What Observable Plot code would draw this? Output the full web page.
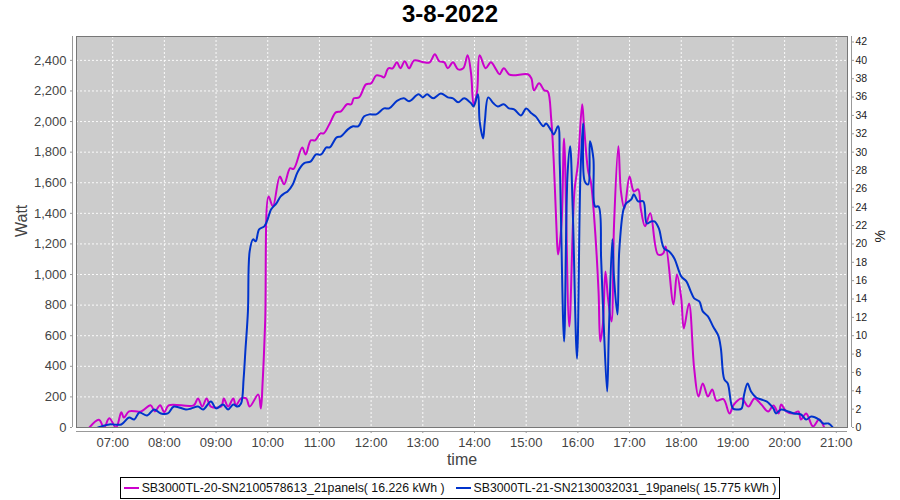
<!DOCTYPE html>
<html>
<head>
<meta charset="utf-8">
<script src="https://cdn.jsdelivr.net/npm/d3@7"></script>
<script src="https://cdn.jsdelivr.net/npm/@observablehq/plot@0.6"></script>
<style>
  html, body { margin: 0; padding: 0; background: #fff; }
  #wrap { position: relative; width: 900px; height: 500px; overflow: hidden; font-family: "Liberation Sans", Arial, sans-serif; }
  #title { position: absolute; top: 0; left: 0; width: 900px; height: 28px; line-height: 28px; text-align: center; font-weight: bold; font-size: 24px; color: #000; }
  #chart { position: absolute; top: 30px; left: 0; }
  #legendRow { position: absolute; top: 477px; left: 0; width: 900px; display: flex; justify-content: center; }
  #legend { display: flex; align-items: center; height: 20px; border: 1px solid #000; padding: 0 3px; font-size: 12.3px; color: #111; white-space: nowrap; }
  .item { display: flex; align-items: center; margin-right: 11px; }
  .item:last-child { margin-right: 0; }
  .sw { width: 15px; height: 2px; margin-right: 3px; }
</style>
</head>
<body>
<div id="wrap">
  <div id="title"></div>
  <div id="chart"></div>
  <div id="legendRow"><div id="legend"></div></div>
</div>
<script>
const chartTitle = "3-8-2022";
const seriesNames = ["SB3000TL-20-SN2100578613_21panels", "SB3000TL-21-SN2130032031_19panels"];
const seriesKwh = [16.226, 15.775];
const seriesColors = ["#cc00cc", "#0033cc"];

// Watt readings for inverter SB3000TL-20 (time, W)
const inv20 = [["06:33",0],["06:44",50],["06:50",0],["06:56",60],["07:04",0],["07:10",100],["07:13",65],["07:19",105],["07:33",105],["07:44",145],["07:49",105],["07:55",145],["08:00",100],["08:05",145],["08:34",145],["08:39",190],["08:44",137],["08:49",190],["08:54",137],["09:06",137],["09:09",190],["09:14",137],["09:20",190],["09:23",145],["09:29",190],["09:35",190],["09:39",137],["09:49",215],["09:52",125],["09:54",290],["09:57",690],["10:01",1510],["10:06",1445],["10:14",1640],["10:19",1590],["10:26",1695],["10:30",1690],["10:40",1830],["10:44",1785],["10:50",1877],["10:55",1877],["11:01",1923],["11:05",1923],["11:12",1988],["11:19",2060],["11:25",2067],["11:32",2113],["11:37",2113],["11:40",2152],["11:46",2158],["11:54",2243],["12:00",2250],["12:06",2302],["12:12",2296],["12:15",2289],["12:20",2348],["12:25",2348],["12:30",2387],["12:34",2348],["12:39",2394],["12:44",2348],["12:50",2400],["13:01",2387],["13:08",2387],["13:14",2440],["13:19",2394],["13:25",2387],["13:29",2348],["13:35",2387],["13:41",2341],["13:47",2348],["13:52",2433],["13:56",2315],["13:59",2113],["14:03",2197],["14:06",2433],["14:13",2348],["14:19",2387],["14:25",2341],["14:29",2309],["14:34",2348],["14:40",2309],["14:45",2302],["15:02",2309],["15:06",2283],["15:09",2204],["15:15",2250],["15:21",2204],["15:25",2197],["15:29",2021],["15:32",1740],["15:35",1328],["15:37",1131],["15:41",1328],["15:44",1890],["15:50",660],["15:56",1543],["16:00",1720],["16:05",2113],["16:07",1982],["16:12",1674],["16:15",1609],["16:19",1367],["16:24",890],["16:26",562],["16:29",674],["16:32",1020],["16:35",844],["16:39",693],["16:42",1328],["16:47",1838],["16:50",1543],["16:54",1432],["17:00",1641],["17:05",1543],["17:10",1557],["17:13",1432],["17:18",1315],["17:24",1400],["17:33",1131],["17:39",1138],["17:42",1184],["17:51",804],["17:55",1000],["18:00",844],["18:03",647],["18:09",811],["18:15",386],["18:20",203],["18:25",288],["18:31",203],["18:36",249],["18:41",175],["18:49",185],["18:56",92],["19:01",150],["19:10",190],["19:18",137],["19:25",190],["19:33",150],["19:41",105],["19:47",144],["19:53",92],["19:56",150],["20:02",105],["20:10",92],["20:16",105],["20:19",52],["20:25",92],["20:33",7],["20:40",52],["20:46",0]];

// Watt readings for inverter SB3000TL-21 (time, W)
const inv21 = [["06:43",0],["06:56",20],["07:10",20],["07:19",65],["07:25",52],["07:31",98],["07:40",78],["07:48",118],["07:56",92],["08:04",92],["08:11",137],["08:25",118],["08:31",124],["08:39",137],["08:45",118],["08:54",170],["09:00",124],["09:08",150],["09:14",118],["09:20",150],["09:25",137],["09:29",157],["09:32",320],["09:34",497],["09:37",759],["09:39",1151],["09:43",1230],["09:46",1217],["09:50",1295],["09:56",1315],["09:59",1347],["10:04",1426],["10:10",1465],["10:15",1511],["10:19",1530],["10:23",1543],["10:29",1589],["10:35",1674],["10:42",1727],["10:50",1740],["10:56",1785],["11:02",1785],["11:08",1831],["11:12",1831],["11:20",1897],["11:25",1903],["11:33",1949],["11:39",1969],["11:45",1969],["11:52",2034],["11:58",2047],["12:06",2047],["12:15",2086],["12:21",2086],["12:30",2135],["12:38",2152],["12:44",2132],["12:55",2178],["13:00",2158],["13:05",2178],["13:12",2152],["13:21",2184],["13:29",2158],["13:35",2152],["13:41",2126],["13:48",2152],["13:56",2119],["13:59",2099],["14:04",2178],["14:06",2001],["14:10",1890],["14:12",2001],["14:16",2158],["14:22",2119],["14:27",2099],["14:34",2113],["14:40",2086],["14:46",2080],["14:54",2040],["15:00",2086],["15:06",2054],["15:11",2034],["15:20",1969],["15:23",1988],["15:29",1942],["15:32",1916],["15:37",1970],["15:39",1720],["15:44",562],["15:48",1654],["15:51",1838],["15:54",1432],["15:59",451],["16:03",1654],["16:06",1988],["16:08",1609],["16:12",1589],["16:14",1871],["16:18",1759],["16:20",1445],["16:24",1445],["16:27",1105],["16:30",674],["16:34",235],["16:36",628],["16:40",1230],["16:42",975],["16:46",739],["16:48",1151],["16:53",1426],["16:56",1465],["17:02",1491],["17:05",1524],["17:10",1478],["17:16",1478],["17:20",1334],["17:25",1347],["17:29",1347],["17:34",1301],["17:40",1171],["17:46",1151],["17:52",1105],["18:00",988],["18:06",955],["18:11",890],["18:15",844],["18:21",824],["18:25",759],["18:31",726],["18:37",660],["18:43",600],["18:46",517],["18:50",314],["18:54",288],["19:00",124],["19:06",118],["19:10",124],["19:13",216],["19:17",288],["19:21",235],["19:27",196],["19:33",183],["19:39",170],["19:42",157],["19:47",124],["19:50",92],["19:56",118],["20:04",105],["20:11",92],["20:19",85],["20:25",52],["20:31",72],["20:40",52],["20:45",26],["20:51",26],["20:56",0]];

const hourTicks = ["07:00","08:00","09:00","10:00","11:00","12:00","13:00","14:00","15:00","16:00","17:00","18:00","19:00","20:00","21:00"];
const wattTicks = [0,200,400,600,800,1000,1200,1400,1600,1800,2000,2200,2400];
const pctTicks = [0,2,4,6,8,10,12,14,16,18,20,22,24,26,28,30,32,34,36,38,40,42];
const wattPerPct = 60;        // 40 % on the right axis equals 2,400 W on the left
const xRange = ["06:18","21:13"];
const yMax = 2556;

const toDate = s => new Date(`2022-08-03T${s}:00Z`);
const rows = (arr, name) => arr.map(([t, w]) => ({time: toDate(t), watt: w, series: name}));
const data20 = rows(inv20, seriesNames[0]);
const data21 = rows(inv21, seriesNames[1]);
const xDomain = xRange.map(toDate);
const hourDates = hourTicks.map(toDate);

document.getElementById("title").textContent = chartTitle;

const chart = Plot.plot({
  width: 900,
  height: 440,
  marginTop: 6,
  marginBottom: 43,
  marginLeft: 76,
  marginRight: 53,
  style: {fontFamily: "'Liberation Sans', Arial, sans-serif", fontSize: "13px", color: "#444", background: "transparent"},
  x: {type: "utc", domain: xDomain},
  y: {domain: [0, yMax]},
  marks: [
    Plot.frame({fill: "#cccccc"}),
    Plot.gridX(hourDates, {stroke: "#ffffff", strokeOpacity: 0.9, strokeWidth: 1, strokeDasharray: "2,2"}),
    Plot.gridY(wattTicks.filter(d => d > 0), {stroke: "#ffffff", strokeOpacity: 0.9, strokeWidth: 1, strokeDasharray: "2,2"}),
    Plot.line(data20, {x: "time", y: "watt", stroke: seriesColors[0], strokeWidth: 2, curve: "catmull-rom", clip: true}),
    Plot.line(data21, {x: "time", y: "watt", stroke: seriesColors[1], strokeWidth: 2, curve: "catmull-rom", clip: true}),
    Plot.frame({stroke: "#777777"}),
    Plot.axisX({ticks: hourDates, tickFormat: d3.utcFormat("%H:%M"), tickSize: 2, tickPadding: 4, dy: 4, label: null, stroke: "#999"}),
    Plot.ruleY([0], {dy: 4, stroke: "#999"}),
    Plot.axisY({anchor: "left", ticks: wattTicks, tickFormat: d3.format(","), tickSize: 2, tickPadding: 4, dx: -4, label: null, stroke: "#999"}),
    Plot.ruleX([xDomain[0]], {dx: -4, stroke: "#999"}),
    Plot.axisY({anchor: "right", ticks: pctTicks.map(p => p * wattPerPct), tickFormat: d => String(Math.round(d / wattPerPct)), tickSize: 2, tickPadding: 2, dx: 4, label: null, fontSize: 10.5, fill: "#222", stroke: "#999"}),
    Plot.ruleX([xDomain[1]], {dx: 4, stroke: "#999"}),
    Plot.text(["Watt"], {frameAnchor: "left", dx: -55, dy: 5, rotate: -90, fontSize: 16, fill: "#444"}),
    Plot.text(["time"], {frameAnchor: "bottom", dy: 37, fontSize: 16, fill: "#444"}),
    Plot.text(["%"], {frameAnchor: "right", dx: 33, dy: -2, rotate: -90, fontSize: 14, fill: "#222"})
  ]
});
document.getElementById("chart").appendChild(chart);

const legend = document.getElementById("legend");
seriesNames.forEach((name, i) => {
  const item = document.createElement("div");
  item.className = "item";
  const sw = document.createElement("div");
  sw.className = "sw";
  sw.style.background = seriesColors[i];
  const label = document.createElement("span");
  label.textContent = `${name}( ${seriesKwh[i].toFixed(3)} kWh )`;
  item.appendChild(sw);
  item.appendChild(label);
  legend.appendChild(item);
});
</script>
</body>
</html>
